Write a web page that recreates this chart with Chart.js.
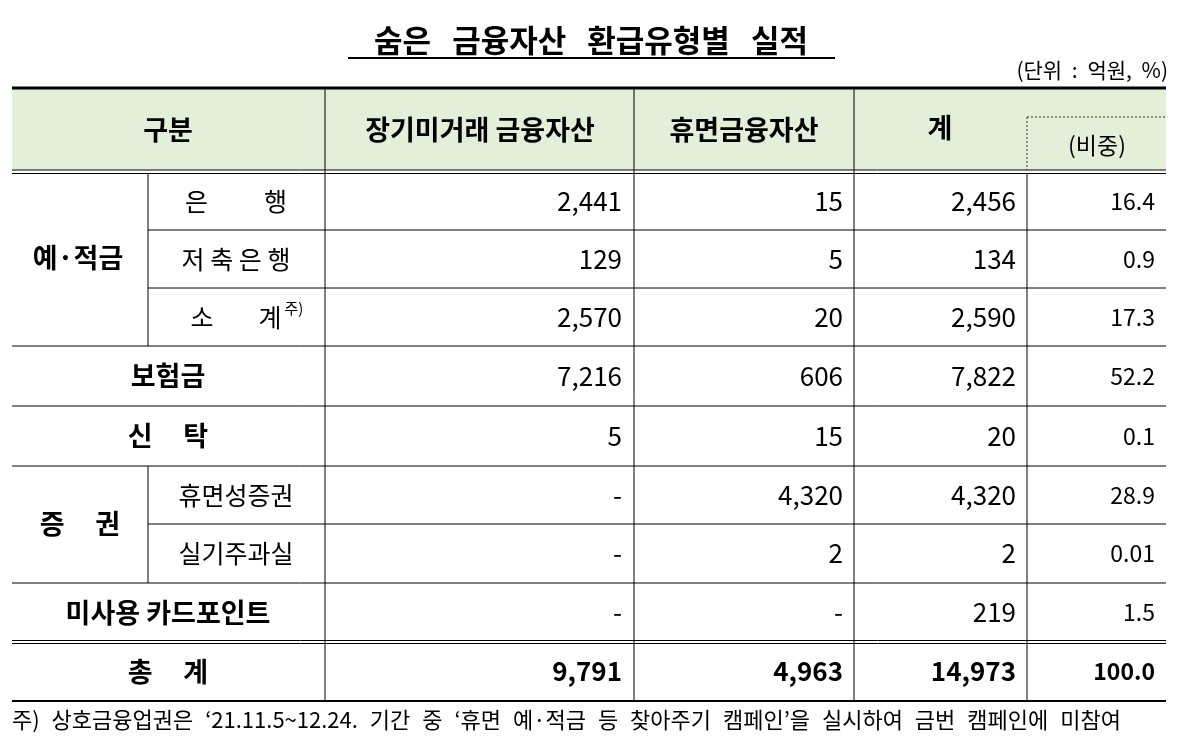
<!DOCTYPE html><html><head><meta charset="utf-8">
<script src="https://cdn.jsdelivr.net/npm/chart.js@4"></script>
<style>html,body{margin:0;background:#fff}#w{width:1181px;height:738px}</style></head><body><div id="w"><canvas id="c"></canvas></div>
<script>
const title = "숨은 금융자산 환급유형별 실적";
const unitLabel = "(단위 : 억원, %)";
const headers = ["구분","장기미거래 금융자산","휴면금융자산","계","(비중)"];
const groups = ["예·적금","예·적금","예·적금","보험금","신     탁","증     권","증     권","미사용 카드포인트","총     계"];
const subRows = ["은          행","저 축 은 행","소        계","","","휴면성증권","실기주과실","",""];
const longTerm = ["2,441","129","2,570","7,216","5","-","-","-","9,791"];
const dormant = ["15","5","20","606","15","4,320","2","-","4,963"];
const totals = ["2,456","134","2,590","7,822","20","4,320","2","219","14,973"];
const shares = ["16.4","0.9","17.3","52.2","0.1","28.9","0.01","1.5","100.0"];
const footnote = "주) 상호금융업권은 ‘21.11.5~12.24. 기간 중 ‘휴면 예·적금 등 찾아주기 캠페인’을 실시하여 금번 캠페인에 미참여";

const F = '"Noto Sans CJK KR","Noto Sans",sans-serif';
const rowY = [173,230,288,346,406,466,524,583,642,701];

const tablePlugin = {id:'tbl', afterDraw(ch){
  const c = ch.ctx, xs = ch.scales.x, ys = ch.scales.y;
  const X = v=>xs.getPixelForValue(v), Y = v=>ys.getPixelForValue(v);
  const line=(x1,y1,x2,y2,w=1,col='#000',dash=[])=>{c.save();c.strokeStyle=col;c.lineWidth=w;c.setLineDash(dash);c.beginPath();c.moveTo(X(x1),Y(y1));c.lineTo(X(x2),Y(y2));c.stroke();c.restore();};
  const txt=(s,x,y,size,bold,align='center',ws='0px')=>{c.save();c.fillStyle='#000';c.font=(bold?'bold ':'')+size+'px '+F;c.wordSpacing=ws;c.textAlign=align;c.textBaseline='middle';c.fillText(s,X(x),Y(y));c.restore();};
  c.save();
  txt(title,591,40,31,true,'center','14px');
  line(348,58,835,58,2);
  txt(unitLabel,1168,70,21,false,'right','5px');
  c.fillStyle='#e3efd9';c.fillRect(X(12),Y(88),X(1166)-X(12),Y(170)-Y(88));
  line(12,88,1166,88,3);
  line(12,170,1166,170,1);line(12,173.5,1166,173.5,1);
  for(const x of [325,634,854]) line(x,88,x,701,1);
  line(1027,173,1027,701,1);
  line(1027,117,1027,170,1,'#333',[2,2]);line(1027,117,1166,117,1,'#333',[2,2]);
  txt(headers[0],168,130,27,true);txt(headers[1],480,130,27,true);txt(headers[2],744,130,27,true);
  txt(headers[3],940,128,27,true);txt(headers[4],1097,145,23,false);
  line(148,173,148,346,1);line(148,466,148,583,1);
  for(let i=1;i<9;i++){
    const y=rowY[i];
    const sub = (i===1||i===2||i===6);
    if(i===8){line(12,y-1.5,1166,y-1.5,1);line(12,y+1.5,1166,y+1.5,1);}
    else line(sub?148:12,y,1166,y,1);
  }
  line(12,701,1166,701,2);
  const mid=i=>(rowY[i]+rowY[i+1])/2;
  txt(groups[0],78,258,27,true);txt(groups[5],80,524,27,true);
  for(const i of [3,4,7,8]) txt(groups[i],168,mid(i),27,true);
  for(const i of [0,1,2,5,6]) txt(subRows[i],236,mid(i),25,false);
  txt("주)",294,308,15,false);
  for(let i=0;i<9;i++){
    const b=i===8;
    txt(longTerm[i],622,mid(i),26,b,'right');txt(dormant[i],843,mid(i),26,b,'right');
    txt(totals[i],1016,mid(i),26,b,'right');txt(shares[i],1155,mid(i),23,b,'right');
  }
  txt(footnote,12,720,22,false,'left','7px');
  c.restore();
}};
new Chart(document.getElementById('c'),{type:'scatter',data:{datasets:[{data:[]}]},
 options:{responsive:true,maintainAspectRatio:false,animation:false,layout:{padding:0},
  plugins:{legend:{display:false},tooltip:{enabled:false}},
  scales:{x:{type:'linear',min:0,max:1181,display:false},y:{type:'linear',min:0,max:738,reverse:true,display:false}}},
 plugins:[tablePlugin]});
</script></body></html>
